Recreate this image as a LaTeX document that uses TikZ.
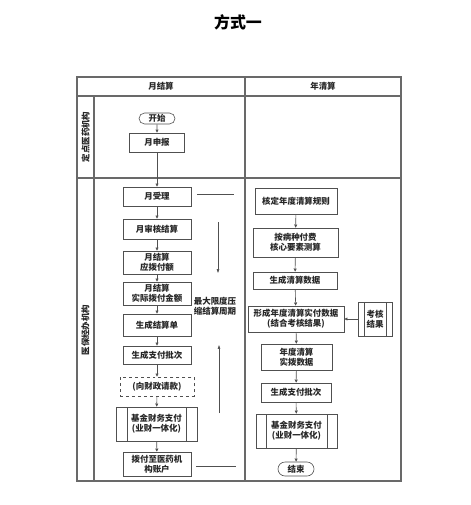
\documentclass[tikz,border=0pt]{standalone}
\usepackage{fontspec}
\setmainfont{Noto Sans CJK SC}
\usepackage{xcolor}
\definecolor{trazogris}{RGB}{80, 80, 80}
\definecolor{marcogris}{RGB}{105, 105, 105}
\usetikzlibrary{arrows.meta, shapes.misc}

\tikzset{
    texto/.style={font=\bfseries\fontsize{8.5}{10}\selectfont, text=black!85, align=center},
    caja/.style={texto, draw=trazogris, line width=0.6pt, inner sep=1pt, minimum width=68bp, minimum height=19bp},
    terminal/.style={caja, rounded rectangle},
    subproceso/.style={caja, path picture={
        \draw[trazogris, line width=0.6pt]
            ([xshift=#1]path picture bounding box.north west) -- ([xshift=#1]path picture bounding box.south west)
            ([xshift=-#1]path picture bounding box.north east) -- ([xshift=-#1]path picture bounding box.south east);}},
    flujo/.style={-{Triangle[length=3.2pt, width=3pt]}, trazogris, line width=0.6pt},
    marco/.style={marcogris, line width=1.1pt}
}

\begin{document}
\begin{tikzpicture}[x=1bp, y=-1bp]
\useasboundingbox (0,0) rectangle (471,505);

% === Titulo ===
\node[font=\bfseries\fontsize{16}{18}\selectfont] (titulo) at (238,22) {方式一};

% === Marco de carriles ===
\draw[marco] (77,77) rectangle (401,481);
\draw[marco] (77,96) -- (401,96);
\draw[marco] (77,178) -- (401,178);
\draw[marco] (94,96) -- (94,481);
\draw[marco] (245,77) -- (245,481);

\node[texto] (hmes) at (161,86.5) {月结算};
\node[texto] (hanio) at (323,86.5) {年清算};
\node[texto, rotate=90] (lanea) at (85.5,137) {定点医药机构};
\node[texto, rotate=90] (laneb) at (85.5,330) {医保经办机构};

% === Columna mensual ===
\node[terminal, minimum width=38bp, minimum height=11bp] (inicio) at (157,118.5) {开始};
\node[caja, minimum width=55bp] (mreporte) at (157,142.5) {月申报};
\node[caja] (m1) at (157,196.5) {月受理};
\node[caja, minimum height=20bp] (m2) at (157,229) {月审核结算};
\node[caja, minimum height=23bp] (m3) at (157,262.5) {月结算\\应拨付额};
\node[caja, minimum height=23bp] (m4) at (157,293.5) {月结算\\实际拨付金额};
\node[caja, minimum height=22bp] (m5) at (157,325) {生成结算单};
\node[caja, minimum height=18bp] (m6) at (157,355) {生成支付批次};
\node[caja, dashed, minimum width=74bp] (m7) at (157,386.5) {(向财政请款)};
\node[subproceso=11bp, minimum width=81bp, minimum height=34bp] (m8) at (156.5,424) {基金财务支付\\(业财一体化)};
\node[caja, minimum height=24bp] (m9) at (157,464) {拨付至医药机\\构账户};

\foreach \a/\b in {inicio/mreporte, mreporte/m1, m1/m2, m2/m3, m3/m4, m4/m5, m5/m6, m6/m7, m7/m8, m8/m9}
    \draw[flujo] (\a) -- (\b);

% Periodo comprimido
\coordinate (cortesup) at (197,194);
\coordinate (corteinf) at (196,466);
\draw[trazogris, line width=0.6pt] (cortesup) -- ++(37,0);
\draw[trazogris, line width=0.6pt] (corteinf) -- ++(40,0);
\node[texto] (periodo) at (215,306) {最大限度压\\缩结算周期};
\draw[-{Triangle[length=4pt, width=2.6pt]}, trazogris, line width=0.6pt] (218,222) -- (218,273);
\draw[-{Triangle[length=4pt, width=2.6pt]}, trazogris, line width=0.6pt] (219,413) -- (219,345);

% === Columna anual ===
\node[caja, minimum width=82bp, minimum height=26bp] (a1) at (296,201) {核定年度清算规则};
\node[caja, minimum width=85bp, minimum height=29bp] (a2) at (295.5,242.5) {按病种付费\\核心要素测算};
\node[caja, minimum width=84bp, minimum height=17bp] (a3) at (295,280.5) {生成清算数据};
\node[caja, minimum width=96bp, minimum height=26bp] (a4) at (296,319) {形成年度清算实付数据\\(结合考核结果)};
\node[subproceso=6bp, minimum width=34bp, minimum height=34bp] (kh) at (375,319) {考核\\结果};
\node[caja, minimum width=71bp, minimum height=26bp] (a5) at (296.5,357) {年度清算\\实拨数据};
\node[caja, minimum width=70bp] (a6) at (296,392.5) {生成支付批次};
\node[subproceso=10bp, minimum width=81bp, minimum height=34bp] (a7) at (296.5,431) {基金财务支付\\(业财一体化)};
\node[terminal, minimum width=38bp, minimum height=14bp] (fin) at (296,469) {结束};

\foreach \a/\b in {a1/a2, a2/a3, a3/a4, a4/a5, a5/a6, a6/a7, a7/fin}
    \draw[flujo] (\a) -- (\b);
\draw[flujo] (kh) -- (a4);

\end{tikzpicture}
\end{document}
